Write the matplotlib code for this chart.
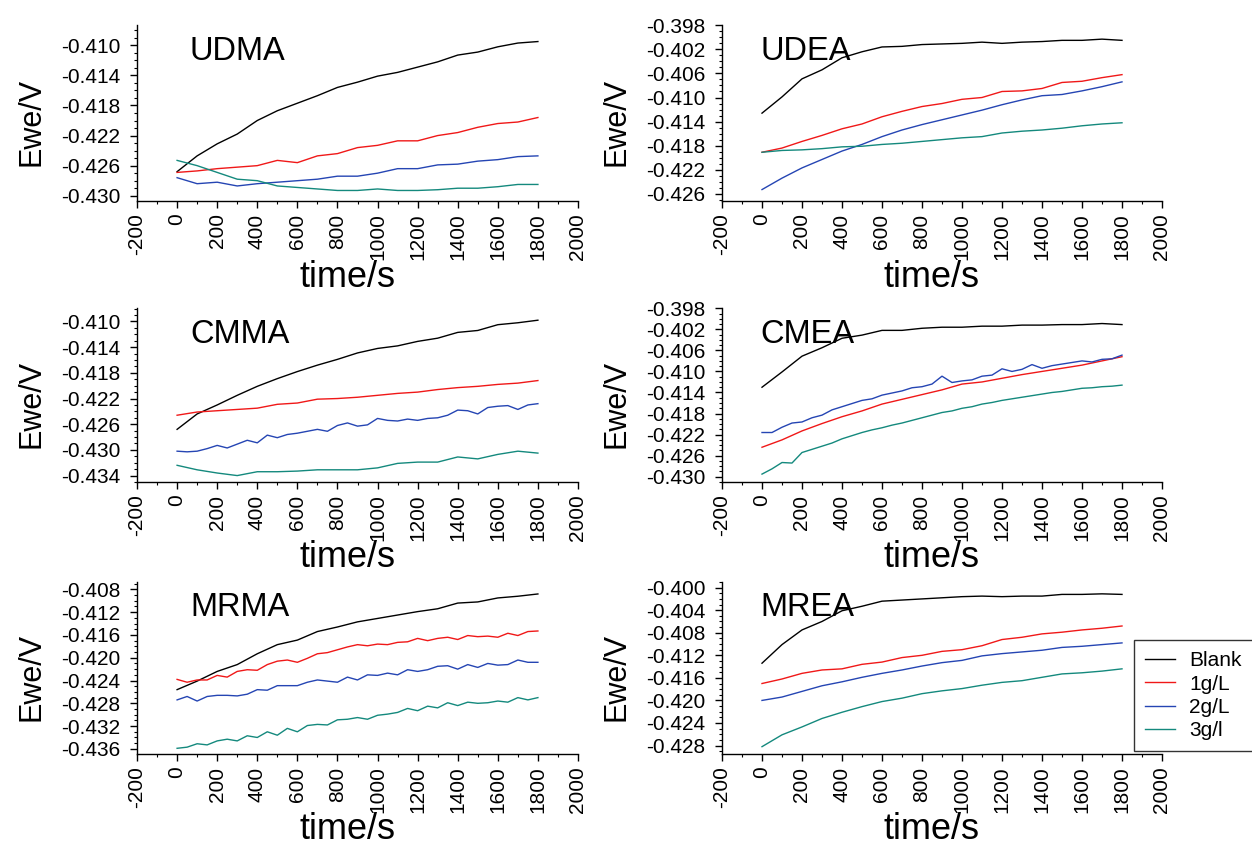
import numpy as np
import matplotlib
matplotlib.use("Agg")
import matplotlib.pyplot as plt
from matplotlib.ticker import MultipleLocator, FixedLocator, FormatStrFormatter

plt.rcParams['font.family'] = ['Liberation Sans', 'DejaVu Sans']
plt.rcParams['axes.unicode_minus'] = False

# ---------------------------------------------------------------- data
t100 = np.arange(0, 1801, 100)
t50 = np.arange(0, 1801, 50)

series_names = ["Blank", "1g/L", "2g/L", "3g/l"]
series_colors = ["#000000", "#f01818", "#2545b3", "#14897d"]

# UDMA
udma_blank = [-0.4268, -0.4247, -0.4231, -0.4218, -0.4200, -0.4187, -0.4177, -0.4167, -0.4156, -0.4149,
              -0.4141, -0.4136, -0.4129, -0.4122, -0.4113, -0.4109, -0.4102, -0.4097, -0.4095]
udma_1 = [-0.4269, -0.4267, -0.4264, -0.4262, -0.4260, -0.4253, -0.4256, -0.4247, -0.4244, -0.4236,
          -0.4233, -0.4227, -0.4227, -0.4220, -0.4216, -0.4209, -0.4204, -0.4202, -0.4196]
udma_2 = [-0.4276, -0.4284, -0.4282, -0.4287, -0.4284, -0.4282, -0.4280, -0.4278, -0.4274, -0.4274,
          -0.4270, -0.4264, -0.4264, -0.4259, -0.4258, -0.4254, -0.4252, -0.4248, -0.4247]
udma_3 = [-0.4253, -0.4260, -0.4269, -0.4278, -0.4280, -0.4287, -0.4289, -0.4291, -0.4293, -0.4293,
          -0.4291, -0.4293, -0.4293, -0.4292, -0.4290, -0.4290, -0.4288, -0.4285, -0.4285]

# UDEA
udea_blank = [-0.4126, -0.4099, -0.4069, -0.4054, -0.4034, -0.4024, -0.4016, -0.4015, -0.4012, -0.4011,
              -0.4010, -0.4008, -0.4010, -0.4008, -0.4007, -0.4005, -0.4005, -0.4003, -0.4005]
udea_1 = [-0.4191, -0.4184, -0.4173, -0.4163, -0.4152, -0.4144, -0.4132, -0.4123, -0.4115, -0.4110,
          -0.4103, -0.4100, -0.4090, -0.4089, -0.4085, -0.4075, -0.4073, -0.4067, -0.4062]
udea_2 = [-0.4253, -0.4234, -0.4217, -0.4203, -0.4189, -0.4178, -0.4165, -0.4154, -0.4145, -0.4137,
          -0.4129, -0.4121, -0.4112, -0.4104, -0.4097, -0.4095, -0.4089, -0.4082, -0.4074]
udea_3 = [-0.4191, -0.4188, -0.4187, -0.4185, -0.4182, -0.4181, -0.4178, -0.4176, -0.4173, -0.4170,
          -0.4167, -0.4165, -0.4159, -0.4156, -0.4154, -0.4151, -0.4147, -0.4144, -0.4142]

# CMMA
cmma_blank = [-0.4268, -0.4244, -0.4230, -0.4215, -0.4201, -0.4189, -0.4178, -0.4168, -0.4159, -0.4149,
              -0.4142, -0.4138, -0.4131, -0.4126, -0.4117, -0.4114, -0.4105, -0.4102, -0.4098]
cmma_1 = [-0.4246, -0.4241, -0.4239, -0.4237, -0.4235, -0.4229, -0.4227, -0.4221, -0.4220, -0.4218,
          -0.4215, -0.4212, -0.4210, -0.4206, -0.4203, -0.4201, -0.4198, -0.4196, -0.4192]
cmma_2 = [-0.4302, -0.4303, -0.4302, -0.4298, -0.4293, -0.4297, -0.4291, -0.4285, -0.4289, -0.4277,
          -0.4281, -0.4276, -0.4274, -0.4271, -0.4268, -0.4271, -0.4262, -0.4258, -0.4263, -0.4261,
          -0.4251, -0.4254, -0.4255, -0.4252, -0.4254, -0.4251, -0.4250, -0.4246, -0.4238, -0.4239,
          -0.4244, -0.4234, -0.4232, -0.4231, -0.4237, -0.4230, -0.4228]
cmma_3 = [-0.4324, -0.4331, -0.4336, -0.4340, -0.4334, -0.4334, -0.4333, -0.4331, -0.4331, -0.4331,
          -0.4328, -0.4321, -0.4319, -0.4319, -0.4311, -0.4314, -0.4307, -0.4302, -0.4305]

# CMEA
cmea_blank = [-0.4130, -0.4101, -0.4071, -0.4055, -0.4037, -0.4031, -0.4022, -0.4022, -0.4018, -0.4016,
              -0.4016, -0.4014, -0.4014, -0.4012, -0.4012, -0.4011, -0.4011, -0.4009, -0.4011]
cmea_1 = [-0.4244, -0.4230, -0.4213, -0.4199, -0.4186, -0.4175, -0.4162, -0.4153, -0.4144, -0.4135,
          -0.4124, -0.4120, -0.4113, -0.4106, -0.4100, -0.4094, -0.4088, -0.4080, -0.4072]
cmea_2 = [-0.4216, -0.4216, -0.4206, -0.4198, -0.4196, -0.4188, -0.4183, -0.4173, -0.4167, -0.4161,
          -0.4155, -0.4152, -0.4145, -0.4141, -0.4137, -0.4131, -0.4129, -0.4124, -0.4109, -0.4121,
          -0.4118, -0.4116, -0.4109, -0.4107, -0.4095, -0.4100, -0.4096, -0.4087, -0.4094, -0.4089,
          -0.4086, -0.4083, -0.4080, -0.4082, -0.4077, -0.4076, -0.4069]
cmea_3 = [-0.4295, -0.4285, -0.4273, -0.4274, -0.4254, -0.4248, -0.4242, -0.4236, -0.4228, -0.4222,
          -0.4216, -0.4211, -0.4207, -0.4202, -0.4198, -0.4193, -0.4188, -0.4183, -0.4178, -0.4175,
          -0.4170, -0.4167, -0.4162, -0.4159, -0.4155, -0.4152, -0.4149, -0.4146, -0.4143, -0.4140,
          -0.4138, -0.4135, -0.4132, -0.4131, -0.4129, -0.4128, -0.4126]

# MRMA
mrma_blank = [-0.4256, -0.4241, -0.4224, -0.4212, -0.4193, -0.4177, -0.4169, -0.4154, -0.4146, -0.4137,
              -0.4131, -0.4125, -0.4119, -0.4114, -0.4104, -0.4102, -0.4095, -0.4092, -0.4088]
mrma_1 = [-0.4238, -0.4243, -0.4239, -0.4239, -0.4231, -0.4234, -0.4224, -0.4221, -0.4222, -0.4212,
          -0.4206, -0.4204, -0.4208, -0.4201, -0.4193, -0.4191, -0.4186, -0.4181, -0.4177, -0.4179,
          -0.4176, -0.4177, -0.4173, -0.4172, -0.4166, -0.4170, -0.4166, -0.4164, -0.4168, -0.4161,
          -0.4163, -0.4162, -0.4164, -0.4157, -0.4161, -0.4154, -0.4153]
mrma_2 = [-0.4274, -0.4268, -0.4276, -0.4268, -0.4266, -0.4266, -0.4267, -0.4264, -0.4256, -0.4257,
          -0.4249, -0.4249, -0.4249, -0.4243, -0.4239, -0.4241, -0.4243, -0.4234, -0.4239, -0.4230,
          -0.4231, -0.4227, -0.4230, -0.4221, -0.4224, -0.4221, -0.4215, -0.4214, -0.4220, -0.4212,
          -0.4217, -0.4210, -0.4213, -0.4212, -0.4204, -0.4208, -0.4208]
mrma_3 = [-0.4359, -0.4357, -0.4351, -0.4353, -0.4346, -0.4343, -0.4346, -0.4337, -0.4340, -0.4330,
          -0.4336, -0.4324, -0.4330, -0.4319, -0.4317, -0.4318, -0.4309, -0.4308, -0.4305, -0.4308,
          -0.4301, -0.4299, -0.4296, -0.4289, -0.4293, -0.4285, -0.4288, -0.4279, -0.4284, -0.4278,
          -0.4280, -0.4279, -0.4276, -0.4278, -0.4270, -0.4274, -0.4270]

# MREA
mrea_blank = [-0.4134, -0.4101, -0.4075, -0.4060, -0.4041, -0.4033, -0.4024, -0.4022, -0.4020, -0.4018,
              -0.4016, -0.4015, -0.4016, -0.4015, -0.4015, -0.4012, -0.4012, -0.4011, -0.4012]
mrea_1 = [-0.4170, -0.4162, -0.4152, -0.4146, -0.4144, -0.4136, -0.4132, -0.4124, -0.4120, -0.4113,
          -0.4110, -0.4103, -0.4092, -0.4088, -0.4082, -0.4079, -0.4075, -0.4072, -0.4068]
mrea_2 = [-0.4200, -0.4194, -0.4184, -0.4174, -0.4167, -0.4159, -0.4152, -0.4146, -0.4139, -0.4133,
          -0.4129, -0.4121, -0.4117, -0.4114, -0.4111, -0.4106, -0.4104, -0.4101, -0.4098]
mrea_3 = [-0.4282, -0.4261, -0.4247, -0.4232, -0.4221, -0.4211, -0.4202, -0.4196, -0.4188, -0.4183,
          -0.4179, -0.4173, -0.4168, -0.4165, -0.4159, -0.4153, -0.4151, -0.4148, -0.4144]

# y tick label values for each panel
udma_yticks = [-0.430, -0.426, -0.422, -0.418, -0.414, -0.410]
udea_yticks = [-0.426, -0.422, -0.418, -0.414, -0.410, -0.406, -0.402, -0.398]
cmma_yticks = [-0.434, -0.430, -0.426, -0.422, -0.418, -0.414, -0.410]
cmea_yticks = [-0.430, -0.426, -0.422, -0.418, -0.414, -0.410, -0.406, -0.402, -0.398]
mrma_yticks = [-0.436, -0.432, -0.428, -0.424, -0.420, -0.416, -0.412, -0.408]
mrea_yticks = [-0.428, -0.424, -0.420, -0.416, -0.412, -0.408, -0.404, -0.400]

panels = [
    ("UDMA", [udma_blank, udma_1, udma_2, udma_3], udma_yticks, (-0.4307, -0.4073)),
    ("UDEA", [udea_blank, udea_1, udea_2, udea_3], udea_yticks, (-0.4272, -0.39795)),
    ("CMMA", [cmma_blank, cmma_1, cmma_2, cmma_3], cmma_yticks, (-0.4350, -0.4079)),
    ("CMEA", [cmea_blank, cmea_1, cmea_2, cmea_3], cmea_yticks, (-0.4310, -0.39795)),
    ("MRMA", [mrma_blank, mrma_1, mrma_2, mrma_3], mrma_yticks, (-0.4369, -0.4067)),
    ("MREA", [mrea_blank, mrea_1, mrea_2, mrea_3], mrea_yticks, (-0.4295, -0.3990)),
]

# ---------------------------------------------------------------- figure
W, H = 1252, 848
fig = plt.figure(figsize=(W / 100, H / 100), dpi=100)

col_px = [(137, 578), (722, 1162)]
row_px = [(25, 201), (308, 482), (582, 754)]

lines_for_legend = []
for i, (name, data, yticks, ylim) in enumerate(panels):
    r, c = divmod(i, 2)
    x0, x1 = col_px[c]
    y0, y1 = row_px[r]
    ax = fig.add_axes([x0 / W, 1 - y1 / H, (x1 - x0) / W, (y1 - y0) / H])

    for vals, color, label in zip(data, series_colors, series_names):
        t = t50 if len(vals) == len(t50) else t100
        ln, = ax.plot(t, vals, color=color, lw=1.0, label=label)
        if i == 0:
            lines_for_legend.append(ln)

    ax.set_xlim(-200, 2000)
    ax.set_ylim(*ylim)
    ax.xaxis.set_major_locator(MultipleLocator(200))
    ax.xaxis.set_minor_locator(MultipleLocator(100))
    ax.yaxis.set_major_locator(FixedLocator(yticks))
    ax.yaxis.set_minor_locator(MultipleLocator(0.001))
    ax.yaxis.set_major_formatter(FormatStrFormatter('%.3f'))

    for side in ("top", "right"):
        ax.spines[side].set_visible(False)
    for side in ("left", "bottom"):
        ax.spines[side].set_linewidth(1.0)

    ax.tick_params(axis='both', which='major', direction='out', length=5, width=1.0, labelsize=15)
    ax.tick_params(axis='both', which='minor', direction='out', length=2.5, width=0.8)
    ax.tick_params(axis='y', which='major', pad=7)
    ax.tick_params(axis='x', which='major', pad=4)
    for lab in ax.get_xticklabels():
        lab.set_rotation(90)

    ax.set_xlabel("time/s", fontsize=26, labelpad=0)
    ax.xaxis.set_label_coords(0.477, -0.335)
    ax.xaxis.label.set_va('top')
    ax.set_ylabel("Ewe/V", fontsize=22)
    ax.yaxis.set_label_coords(-0.205, 0.45)

    ax.text(0.12 if c == 0 else 0.088, 0.80, name, transform=ax.transAxes,
            fontsize=23.5, va='baseline', ha='left')

leg = fig.legend(handles=lines_for_legend, labels=series_names,
                 loc='upper left', bbox_to_anchor=(1134 / W, 1 - 640 / H),
                 borderaxespad=0, fontsize=15, frameon=True, fancybox=False,
                 framealpha=1, edgecolor='#333333', handlelength=1.4,
                 handletextpad=0.7, borderpad=0.55, labelspacing=0.2)
leg.get_frame().set_linewidth(1.0)

fig.savefig("out.png", dpi=100)
